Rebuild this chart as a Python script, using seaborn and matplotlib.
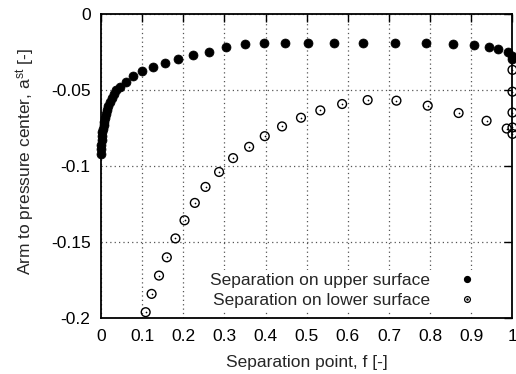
import matplotlib
matplotlib.use("Agg")
import matplotlib.pyplot as plt
import seaborn as sns
import pandas as pd
from matplotlib.ticker import FuncFormatter, MultipleLocator
from matplotlib.lines import Line2D
from matplotlib.legend_handler import HandlerTuple

f_upper = [0.0, 0.0003, 0.0008, 0.0015, 0.0025, 0.0035, 0.005, 0.0065, 0.008, 0.010,
           0.012, 0.015, 0.018, 0.022, 0.026, 0.031, 0.037, 0.046, 0.060, 0.078,
           0.100, 0.126, 0.156, 0.188, 0.224, 0.263, 0.305, 0.349, 0.395, 0.447,
           0.504, 0.566, 0.636, 0.714, 0.789, 0.855, 0.906, 0.942, 0.966, 0.988,
           0.998, 1.0]
a_upper = [-0.0925, -0.089, -0.086, -0.083, -0.0805, -0.078, -0.0755, -0.073, -0.071, -0.0685,
           -0.066, -0.063, -0.0605, -0.058, -0.0555, -0.053, -0.0505, -0.048, -0.0447, -0.0412,
           -0.038, -0.0353, -0.0325, -0.0300, -0.0274, -0.0250, -0.0222, -0.0200, -0.0193, -0.0192,
           -0.0192, -0.0192, -0.0192, -0.0192, -0.0193, -0.0200, -0.0208, -0.0217, -0.0230, -0.0252,
           -0.0276, -0.0298]

f_lower = [0.1086, 0.123, 0.141, 0.160, 0.181, 0.203, 0.228, 0.254, 0.287, 0.321,
           0.360, 0.398, 0.440, 0.486, 0.533, 0.586, 0.648, 0.718, 0.794, 0.869,
           0.937, 0.986, 1.0, 1.0, 1.0, 1.0, 1.0]
a_lower = [-0.196, -0.184, -0.172, -0.160, -0.1476, -0.1357, -0.1243, -0.1138, -0.104, -0.0949,
           -0.0875, -0.0805, -0.0741, -0.0684, -0.0636, -0.0594, -0.0568, -0.0572, -0.0605, -0.0653,
           -0.0704, -0.0755, -0.0748, -0.079, -0.065, -0.0513, -0.037]

label_upper = "Separation on upper surface"
label_lower = "Separation on lower surface"
x_label = "Separation point, f [-]"
y_label = "Arm to pressure center, a$^{st}$ [-]"

FS = 12.5

sns.set_style("white")
plt.rcParams["font.family"] = ["Liberation Sans", "DejaVu Sans"]
plt.rcParams["mathtext.default"] = "regular"
plt.rcParams["font.size"] = FS

df_up = pd.DataFrame({"f": f_upper, "a": a_upper})
df_lo = pd.DataFrame({"f": f_lower, "a": a_lower})

fig = plt.figure(figsize=(5.16, 3.74), dpi=100)
ax = fig.add_axes([0.1957, 0.149, 0.7975, 0.8149])

sns.scatterplot(data=df_up, x="f", y="a", ax=ax, marker="o", s=42, color="black",
                edgecolor="black", linewidth=0.5, clip_on=False, zorder=3, legend=False)
sns.scatterplot(data=df_lo, x="f", y="a", ax=ax, marker="o", s=40, facecolor="none",
                edgecolor="black", linewidth=1.0, clip_on=False, zorder=3, legend=False)
sns.scatterplot(data=df_lo, x="f", y="a", ax=ax, marker="o", s=1.5, color="black",
                linewidth=0, clip_on=False, zorder=3, legend=False)

ax.set_xlim(0, 1)
ax.set_ylim(-0.2, 0)
ax.xaxis.set_major_locator(MultipleLocator(0.1))
ax.yaxis.set_major_locator(MultipleLocator(0.05))
fmt = FuncFormatter(lambda v, p: ("%g" % round(v, 4)) if abs(v) > 1e-9 else "0")
ax.xaxis.set_major_formatter(fmt)
ax.yaxis.set_major_formatter(fmt)

ax.grid(True, linestyle=(0, (1, 2.5)), color="#555555", linewidth=0.9)
ax.set_axisbelow(True)
for sp in ax.spines.values():
    sp.set_visible(True)
    sp.set_color("black")
    sp.set_linewidth(1.3)
ax.tick_params(direction="in", length=6, width=1.0, top=True, right=True,
               labelsize=FS, colors="black")
ax.tick_params(axis="x", pad=8)
ax.tick_params(axis="y", pad=7.5)
ax.set_xlabel(x_label, fontsize=FS, labelpad=8)
ax.set_ylabel(y_label, fontsize=FS)
ax.yaxis.set_label_coords(-0.155, 0.515)

h_up = Line2D([], [], marker="o", linestyle="none", color="black", markersize=4.2)
h_lo1 = Line2D([], [], marker="o", linestyle="none", markerfacecolor="none",
               markeredgecolor="black", markersize=4.2, markeredgewidth=0.9)
h_lo2 = Line2D([], [], marker="o", linestyle="none", color="black", markersize=0.8)
leg = ax.legend([h_up, (h_lo1, h_lo2)], [label_upper, label_lower],
                handler_map={tuple: HandlerTuple(ndivide=1)},
                loc="lower right", bbox_to_anchor=(0.917, 0.025), borderaxespad=0,
                frameon=True, markerfirst=False, fontsize=FS, handlelength=1.0,
                handletextpad=1.6, labelspacing=0.28, borderpad=0.17, framealpha=1.0)
leg.get_frame().set_edgecolor("white")
leg.get_frame().set_linewidth(0)
leg.get_frame().set_boxstyle("square", pad=0)
for t in leg.get_texts():
    t.set_ha("right")
leg.set_zorder(2.5)

fig.savefig("out.png", dpi=100)
